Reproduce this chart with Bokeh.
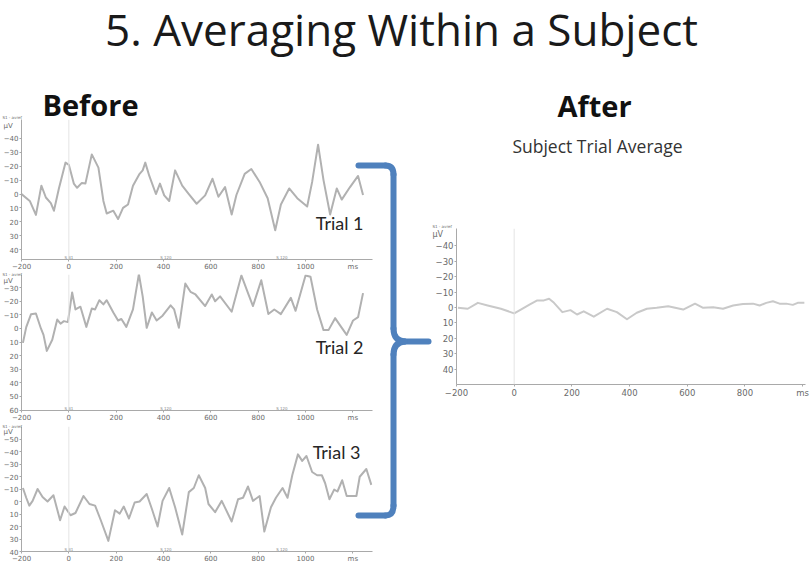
from bokeh.plotting import figure
from bokeh.layouts import row, column
from bokeh.models import Range1d, FixedTicker, Label, Span, Spacer, GridBox
from bokeh.core.properties import value
from bokeh.embed import file_html
from bokeh.resources import INLINE

# ---- EEG traces (time in ms, amplitude in microvolts, negative plotted up) ----
trial1_t = [-200, -165, -139, -116, -97, -76, -63, -42, -14, 0, 21, 35, 55, 70, 97, 125, 146, 160,
            188, 208, 229, 250, 271, 299, 312, 323, 340, 368, 385, 403, 424, 449, 479, 507, 540,
            576, 607, 632, 660, 688, 708, 743, 771, 806, 840, 872, 896, 931, 965, 1007, 1028,
            1053, 1076, 1104, 1132, 1153, 1188, 1222, 1243]
trial1_uv = [0, 5, 15, -6, 2.5, 6.5, 12, -4, -22.6, -21, -7.5, -4.5, -8, -7.5, -28.5, -19, 5, 14,
             12, 18, 10, 7.5, -6, -14.5, -17, -22.6, -13, 0, -7.5, 1, 5, -17, -6, 0, 7,
             1, -11, 2, -5, 14.7, 0.7, -14.5, -18, -8.7, 3, 26, 7.5, -4, 3, 9, -8.7,
             -35.5, -10, 14.7, -4, 4, -5, -13, 0.7]

trial2_t = [-194, -180, -160, -139, -118, -107, -93, -70, -49, -35, -21, -4, 14, 28, 49, 74, 97,
            111, 129, 146, 160, 188, 208, 222, 243, 271, 296, 312, 329, 351, 371, 396, 430, 445,
            465, 492, 514, 535, 576, 604, 618, 639, 688, 729, 757, 778, 813, 843, 868, 896, 938,
            958, 1000, 1021, 1049, 1076, 1097, 1125, 1146, 1174, 1201, 1222, 1243]
trial2_uv = [10.6, -1, -10.4, -11, 0, 4.7, 16.5, 8.3, -6.6, -3.5, -5.4, -4.7, -26.5, -14, -16, -1.2,
             -14.7, -14, -20.8, -17.7, -20.8, -11.8, -5.9, -7, -1.2, -14, -40, -23.6, -0.5, -11.8,
             -5.9, -9.4, -17, -14, -0.5, -33, -27, -25, -16.5, -25, -20, -23.6, -12.3, -39, -26,
             -16.5, -35.5, -10.6, -14, -10.6, -22.5, -13, -39, -38, -14, 1.2, 1.2, -7.6, -2.3,
             4.7, -5.9, -8.3, -26]

trial3_t = [-194, -180, -167, -153, -132, -111, -90, -65, -37, -18, 7, 28, 62, 87, 111, 135, 167,
            195, 215, 232, 254, 278, 299, 329, 351, 375, 396, 424, 449, 479, 507, 528, 549, 576,
            590, 618, 646, 688, 715, 736, 757, 778, 806, 826, 854, 875, 903, 924, 944, 968, 986,
            1004, 1028, 1049, 1069, 1083, 1101, 1121, 1135, 1155, 1174, 1195, 1215, 1229, 1257,
            1278]
trial3_uv = [-10.8, -3, 3.3, -0.5, -10, -3.6, 0, -5, 15, 4, 11, 9.2, -4.4, 2, 3.3, 15, 31.5,
             7, 9.7, 4, 13.6, 0.8, 0, -6, 6, 20, -0.5, -10.8, 4.6, 26.4, -7.5, -10.8, -21, -10.8,
             2, 8.5, -0.5, 16, -1.8, -3, -12, -0.5, -4.4, 24, 4.6, -3, -10.8, -3, -21, -37.7,
             -32.5, -36.4, -23.6, -21, -21, -14.6, -1.8, -9.5, -8, -17, -4.4, -4.4, -4.4, -19.8,
             -26, -13.3]

avg_t = [-195, -161, -126, -92, -46, 0, 23, 53, 80, 103, 121, 138, 167, 195, 218, 241, 276, 322,
         356, 391, 425, 460, 494, 534, 586, 627, 655, 690, 724, 759, 793, 828, 851, 874, 897,
         920, 943, 966, 983, 1006]
avg_uv = [0.2, 0.8, -3, -1.3, 0.8, 3.8, 1.3, -1.9, -4.6, -4.6, -5.7, -3, 3, 1.7, 4.5, 2.5, 5.9,
          0.8, 3, 7.6, 3.4, 0.8, 0.2, -0.8, 1.3, -2.5, 0.2, -0.2, 0.8, -1.3, -2.3, -2.5, -1.3,
          -3, -4, -2.5, -2.5, -1.7, -3, -3]

# ---- tick labels ----
trial_xticks = [-200, 0, 200, 400, 600, 800, 1000, 1200]
avg_xticks = [-200, 0, 200, 400, 600, 800, 1000]
trial1_yticks = [-40, -30, -20, -10, 0, 10, 20, 30, 40]
trial2_yticks = [-30, -20, -10, 0, 10, 20, 30, 40, 50, 60]
trial3_yticks = [-50, -40, -30, -20, -10, 0, 10, 20, 30, 40]
avg_yticks = [-40, -30, -20, -10, 0, 10, 20, 30, 40]
stim_t = [0, 410, 900]
stim_codes = ["S 81", "S 120", "S 120"]

TRACE = "#b1b1b1"
AVG_TRACE = "#c9c9c9"
AXIS = "#a9a9a9"
TICK_TXT = "#6a6a6a"
BLUE = "#4f81bd"
FONT = "Open Sans"
TICK_FONT = "DejaVu Sans"
W, H = 810, 565


def plain(w, h):
    p = figure(width=w, height=h, x_range=Range1d(0, w), y_range=Range1d(h, 0),
               toolbar_location=None, output_backend="svg", title=None,
               x_axis_location=None, y_axis_location=None, min_border=0)
    p.grid.visible = False
    p.outline_line_color = None
    return p


def erp_panel(w, h, borders, xr, yr, xticks, yticks, t, uv, color, tick_size,
              trial=None, stims=True):
    left, right, top, bottom = borders
    p = figure(width=w, height=h, x_range=Range1d(*xr), y_range=Range1d(*yr),
               toolbar_location=None, output_backend="svg", title=None,
               min_border_left=left, min_border_right=right,
               min_border_top=top, min_border_bottom=bottom)
    p.grid.visible = False
    p.outline_line_color = None
    for ax in (p.xaxis[0], p.yaxis[0]):
        ax.axis_line_color = AXIS
        ax.major_tick_line_color = AXIS
        ax.major_tick_out = 2
        ax.major_tick_in = 0
        ax.minor_tick_line_color = None
        ax.major_label_text_font = TICK_FONT
        ax.major_label_text_font_size = tick_size
        ax.major_label_text_color = TICK_TXT
        ax.major_label_standoff = 1
    p.xaxis.ticker = FixedTicker(ticks=xticks)
    p.xaxis.major_label_overrides = {xticks[-1]: "ms"}
    p.yaxis.ticker = FixedTicker(ticks=yticks)

    p.add_layout(Span(location=0, dimension="height", line_color="#e4e4e4", line_width=1))
    p.line(t, uv, line_color=color, line_width=2, line_join="round")

    if stims:
        p.text(x=stim_t, y=[yr[0]] * len(stim_t), text=stim_codes,
               text_font=value(TICK_FONT), text_font_size="4px",
               text_color="#8a8a8a", text_align="center", text_baseline="bottom")

    if trial is not None:
        name, tx, ty = trial
        p.add_layout(Label(x=tx, y=ty, text=name, text_font="Lato",
                           text_font_size="18px", text_color="#262626",
                           text_align="right", text_baseline="middle"))
    return p


# ---- left column: three single trials ----
p1 = erp_panel(374, 157, (19, 2, 3, 10), (-200, 1283), (47.1, -53.6), trial_xticks,
               trial1_yticks, trial1_t, trial1_uv, TRACE, "7px",
               trial=("Trial 1", 1245, 20.5))
p2 = erp_panel(374, 151, (19, 2, 1, 9), (-200, 1283), (60.3, -39.7), trial_xticks,
               trial2_yticks, trial2_t, trial2_uv, TRACE, "7px",
               trial=("Trial 2", 1245, 13.5))
p3 = erp_panel(374, 141, (19, 2, 2, 9), (-200, 1283), (40.0, -60.0), trial_xticks,
               trial3_yticks, trial3_t, trial3_uv, TRACE, "7px",
               trial=("Trial 3", 1232, -40))

# ---- right column: trial average ----
pa = erp_panel(378, 178, (19, 5, 6, 14), (-200, 1010), (49.7, -51), avg_xticks,
               avg_yticks, avg_t, avg_uv, AVG_TRACE, "8.5px", stims=False)

base = column(
    Spacer(width=W, height=116),
    row(column(p1, p2, p3, spacing=0),
        Spacer(width=58, height=449),
        column(Spacer(width=378, height=106), pa, Spacer(width=378, height=165), spacing=0),
        spacing=0),
    spacing=0)

# ---- transparent sheet on top: headings, channel captions and the brace ----
sheet = plain(W, H)
sheet.background_fill_color = None
sheet.border_fill_color = None

sheet.text(x=[401], y=[28], text=["5. Averaging Within a Subject"],
           text_font=value(FONT), text_font_size="44px", text_color="#1a1a1a",
           text_align="center", text_baseline="middle")
sheet.text(x=[42, 557], y=[103.5, 104.5], text=["Before", "After"],
           text_font=value(FONT), text_font_size="29px", text_font_style="bold",
           text_color="#111111", text_align="left", text_baseline="middle")
sheet.text(x=[597], y=[145.7], text=["Subject Trial Average"], text_font=value(FONT),
           text_font_size="17.5px", text_color="#333333", text_align="center",
           text_baseline="middle")

# channel name and unit beside the top of each amplitude axis
sheet.text(x=[2, 2, 2, 432], y=[117, 273.5, 425.5, 225.5],
           text=["S1 - avref"] * 4, text_font=value(TICK_FONT), text_font_size="4px",
           text_color=TICK_TXT, text_align="left", text_baseline="middle")
sheet.text(x=[3, 3, 3], y=[125, 280.5, 431], text=["µV"] * 3,
           text_font=value(TICK_FONT), text_font_size="7px",
           text_color=TICK_TXT, text_align="left", text_baseline="middle")
sheet.text(x=[432], y=[233.5], text=["µV"], text_font=value(TICK_FONT),
           text_font_size="8px", text_color=TICK_TXT, text_align="left",
           text_baseline="middle")

# curly brace
bkw = dict(line_color=BLUE, line_width=6, line_cap="round")
sheet.segment(x0=[358, 393, 393, 404, 358], y0=[165, 174, 354, 341, 515],
              x1=[385, 393, 393, 428, 385], y1=[165, 328, 505, 341, 515], **bkw)
sheet.quadratic(x0=[385, 393, 404, 393], y0=[165, 328, 341, 505],
                x1=[393, 404, 393, 385], y1=[174, 341, 354, 515],
                cx=[393, 393, 393, 393], cy=[165, 340, 342, 515], **bkw)

page = GridBox(children=[(base, 0, 0), (sheet, 0, 0)], width=W, height=H)

with open("out.html", "w") as f:
    f.write(file_html(page, INLINE))
